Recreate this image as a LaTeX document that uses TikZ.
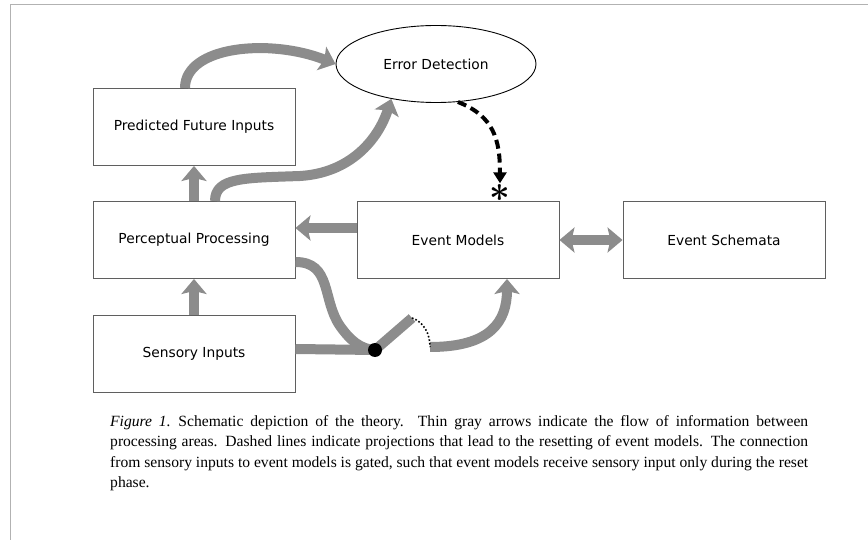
\RequirePackage{fix-cm}
\documentclass[tikz,border=0pt]{standalone}
\usepackage{fontspec}
\setmainfont{Liberation Serif}
\newfontfamily\boxfont{DejaVu Sans}
\usetikzlibrary{arrows.meta,shapes.geometric,calc}
\definecolor{flowgray}{RGB}{140,140,140}
\definecolor{framegray}{RGB}{95,95,95}
\begin{document}
\begin{tikzpicture}[x=1pt,y=-1pt,
  box/.style={draw=framegray,line width=0.9pt,fill=white,minimum width=202pt,minimum height=77pt,font=\boxfont\fontsize{13.8}{16}\selectfont},
  flow/.style={draw=flowgray,line width=10pt,-{Stealth[length=15pt,width=25pt,inset=3pt]}},
  flowline/.style={draw=flowgray,line width=10pt},
  reset/.style={draw=black,line width=4pt,dash pattern=on 9pt off 5pt,-{Triangle[length=11pt,width=13pt]}}]
\useasboundingbox (0,0) rectangle (868,540);
\draw [black!30,line width=1pt] (10,540) -- (10,5) -- (868,5);
% boxes
\node [box] (pred) at (194,127) {Predicted Future Inputs};
\node [box] (perc) at (194,240) {Perceptual Processing};
\node [box] (sens) at (194,354) {Sensory Inputs};
\node [box] (models) at (458,240) {Event Models};
\node [box] (schemata) at (724,240) {Event Schemata};
\node [draw,ellipse,line width=0.9pt,minimum width=200pt,minimum height=77pt,font=\boxfont\fontsize{13.8}{16}\selectfont] (errdet) at (436,64) {Error Detection};
% gate
\coordinate (gate) at (375,350);
\coordinate (lever) at (412,318);
\coordinate (gateout) at (430,347);
% flows
\draw [flow] (perc.north) -- (pred.south);
\draw [flow] (sens.north) -- (perc.south);
\draw [flow] ([xshift=-9pt]pred.north) .. controls +(0,-42) and (270,38) .. (errdet.west);
\draw [flow] ([xshift=21pt]perc.north) .. controls +(0,-24) and (245,178) .. (300,176) .. controls (350,173) and (378,140) .. (errdet.218);
\draw [flow] ([yshift=12pt]models.west) -- ([yshift=12pt]perc.east);
\draw [flowline] ([yshift=-22pt]perc.east) .. controls (332,262) and (322,300) .. (340,326) .. controls (350,340) and (360,349) .. (gate);
\draw [flowline] ([yshift=5pt]sens.east) -- (gate);
\draw [flowline] (gate) -- (lever);
\draw [flow] (gateout) .. controls (490,347) and (507,322) .. ([xshift=49pt]models.south);
\draw [flowgray,line width=10pt,{Stealth[length=15pt,width=25pt,inset=3pt]}-{Stealth[length=15pt,width=25pt,inset=3pt]}] (models.east) -- (schemata.west);
\draw [black,line width=1.6pt,dotted] (lever) .. controls (424,322) and (430,334) .. (gateout);
\fill (gate) circle (7pt);
% reset
\node [inner sep=0pt,font=\fontsize{36}{36}\selectfont\boldmath] (star) at (500,193) {$\ast$};
\draw [reset] (errdet.300) .. controls (494,116) and (500,140) .. ([yshift=1pt]star.north);
% caption
\node [anchor=north west,inner sep=0pt,text width=698pt,align=justify,font=\fontsize{15.6}{20.5}\selectfont] (caption) at (110,415) {\textit{Figure 1.}\enspace Schematic depiction of the theory. Thin gray arrows indicate the flow of information between\linebreak processing areas. Dashed lines indicate projections that lead to the resetting of event models. The connection\linebreak from sensory inputs to event models is gated, such that event models receive sensory input only during the reset\linebreak phase.};
\end{tikzpicture}
\end{document}
